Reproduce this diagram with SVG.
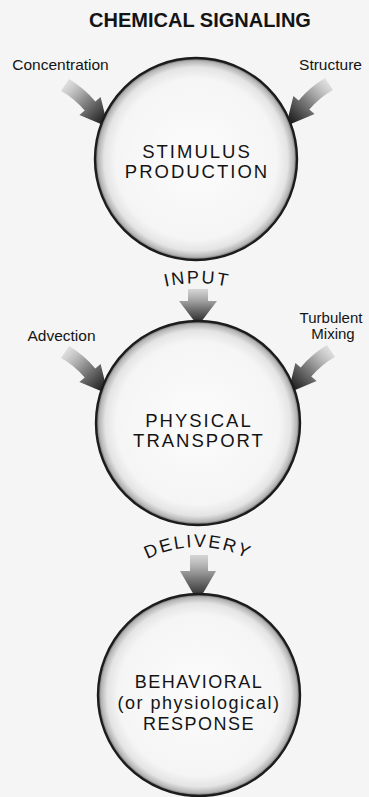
<svg xmlns="http://www.w3.org/2000/svg" xmlns:xlink="http://www.w3.org/1999/xlink" width="369" height="797" viewBox="0 0 369 797">
  <style>
    .t { font-family: "Liberation Sans", Arial, Helvetica, sans-serif; fill: #141414; }
    .title { font-size: 20px; font-weight: bold; text-anchor: middle; }
    .lbl { font-size: 15.5px; text-anchor: middle; }
    .lbl2 { font-size: 15px; text-anchor: middle; }
    .in { font-size: 18.5px; text-anchor: middle; letter-spacing: 2px; }
    .in3 { font-size: 18px; text-anchor: middle; letter-spacing: 1.5px; }
    .arc { font-size: 18px; letter-spacing: 2px; text-anchor: middle; }
    .circ { fill: url(#ball); stroke: #1c1c1c; stroke-width: 2.4; }
  </style>
  <defs>
    <radialGradient id="ball" cx="50%" cy="50%" r="50%">
      <stop offset="0" stop-color="#fcfcfc"/>
      <stop offset="0.8" stop-color="#f5f5f5"/>
      <stop offset="0.91" stop-color="#e4e4e4"/>
      <stop offset="0.97" stop-color="#b4b4b4"/>
      <stop offset="1" stop-color="#5a5a5a"/>
    </radialGradient>
    <linearGradient id="cg" gradientUnits="userSpaceOnUse" x1="-44" y1="-44" x2="-2" y2="-2">
      <stop offset="0" stop-color="#d6d6d6" stop-opacity="0.6"/>
      <stop offset="0.45" stop-color="#8a8a8a"/>
      <stop offset="1" stop-color="#111"/>
    </linearGradient>
    <linearGradient id="dg" gradientUnits="objectBoundingBox" x1="0" y1="0" x2="0" y2="1">
      <stop offset="0" stop-color="#c8c8c8" stop-opacity="0.7"/>
      <stop offset="0.5" stop-color="#7a7a7a"/>
      <stop offset="1" stop-color="#151515"/>
    </linearGradient>
    <path id="curvedArrow" d="M -39,-48 Q -24,-39 -12.7,-25.6 L -7.4,-30.1 L 0,0 L -28.6,-11.9 L -23.3,-16.4 Q -34,-29 -47,-36 Z" fill="url(#cg)"/>
    <path id="arcInput" d="M 127,302 A 140,140 0 0,1 267,302"/>
    <path id="arcDelivery" d="M 127.3,572.7 A 110,110 0 0,1 268.7,572.7"/>
  </defs>

  <rect x="0" y="0" width="369" height="797" fill="#f5f5f5"/>

  <text class="t title" x="200" y="27">CHEMICAL SIGNALING</text>

  <g id="connectors">
    <use id="arrow-concentration" xlink:href="#curvedArrow" transform="translate(108,127)"/>
    <use id="arrow-structure" xlink:href="#curvedArrow" transform="translate(286,126) scale(-1,1)"/>
    <use id="arrow-advection" xlink:href="#curvedArrow" transform="translate(108,394)"/>
    <use id="arrow-turbulent" xlink:href="#curvedArrow" transform="translate(288,393) scale(-1,1)"/>
    <path id="arrow-input" d="M 188,289 L 208,289 L 208,301 L 217,301 L 198,326 L 179,301 L 188,301 Z" fill="url(#dg)"/>
    <path id="arrow-delivery" d="M 190,555 L 208,555 L 208,571 L 216,571 L 198,602 L 180,571 L 190,571 Z" fill="url(#dg)"/>
  </g>

  <g id="label-concentration"><text class="t lbl" x="60.5" y="70">Concentration</text></g>
  <g id="label-structure"><text class="t lbl" x="330.5" y="70">Structure</text></g>
  <g id="label-advection"><text class="t lbl" x="61.5" y="341">Advection</text></g>
  <g id="label-turbulent">
    <text class="t lbl2" x="331" y="323">Turbulent</text>
    <text class="t lbl2" x="333" y="339">Mixing</text>
  </g>

  <g id="node-stimulus">
    <circle class="circ" cx="196" cy="159" r="101"/>
    <text class="t in" x="197" y="158">STIMULUS</text>
    <text class="t in" x="197" y="178">PRODUCTION</text>
  </g>

  <g id="label-input">
    <text class="t arc"><textPath xlink:href="#arcInput" startOffset="50%">INPUT</textPath></text>
  </g>

  <g id="node-transport">
    <circle class="circ" cx="198" cy="423" r="102"/>
    <text class="t in" x="199" y="427">PHYSICAL</text>
    <text class="t in" x="199" y="447">TRANSPORT</text>
  </g>

  <g id="label-delivery">
    <text class="t arc"><textPath xlink:href="#arcDelivery" startOffset="50%">DELIVERY</textPath></text>
  </g>

  <g id="node-response">
    <circle class="circ" cx="199" cy="695" r="101"/>
    <text class="t in3" x="199" y="688">BEHAVIORAL</text>
    <text class="t in3" x="199" y="709">(or physiological)</text>
    <text class="t in3" x="199" y="730">RESPONSE</text>
  </g>
</svg>
